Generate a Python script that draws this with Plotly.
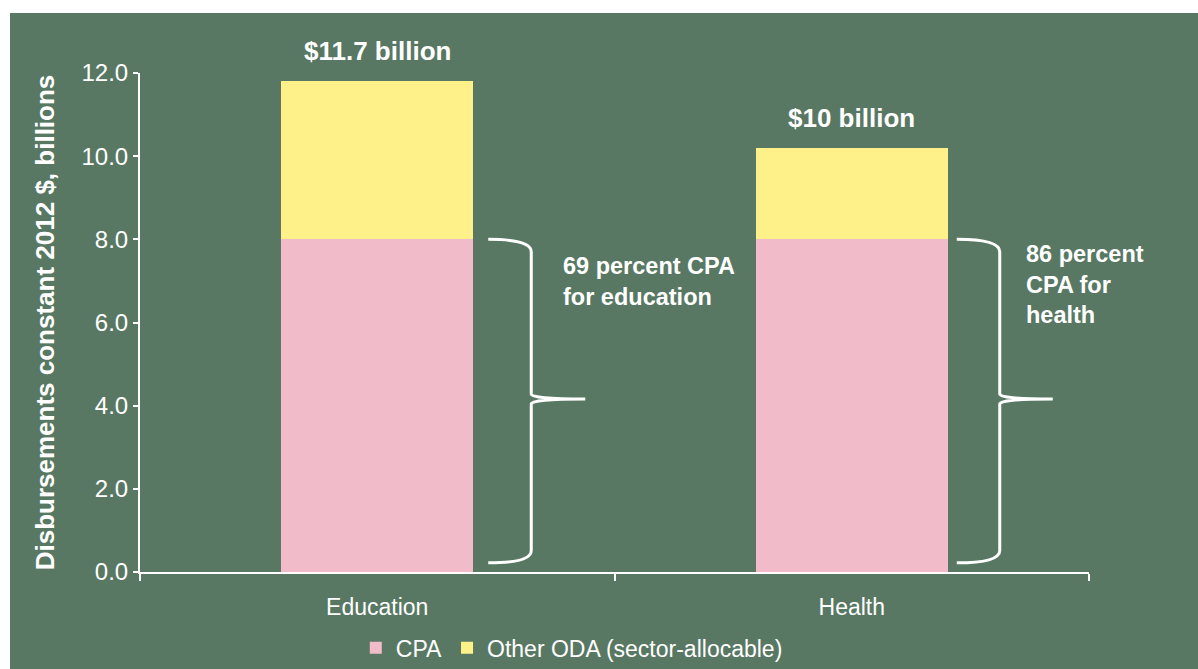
import plotly.graph_objects as go

# ---- data ----
categories = ["Education", "Health"]
cpa = [8.0, 8.0]
other_oda = [3.8, 2.2]
total_labels = ["$11.7 billion", "$10 billion"]
share_labels = ["69 percent CPA<br>for education", "86 percent<br>CPA for<br>health"]
series_names = ["CPA", "Other ODA (sector-allocable)"]
y_ticks = [0, 2, 4, 6, 8, 10, 12]
y_title = "Disbursements constant 2012 $, billions"

# ---- style ----
W, H = 1198, 669
L, R, T, B = 140, 109, 73, 97
BG = "#587863"
PINK = "#F2BBC9"
YELLOW = "#FFF18A"
WHITE = "#FFFFFF"
FONT = "Liberation Sans, Arial, sans-serif"

fig = go.Figure()
fig.add_bar(x=categories, y=cpa, name=series_names[0], marker=dict(color=PINK, line=dict(width=0)), width=0.405)
fig.add_bar(x=categories, y=other_oda, name=series_names[1], marker=dict(color=YELLOW, line=dict(width=0)), width=0.405)

pw = W - L - R
ph = H - T - B
# green panel (image starts with a small white strip at left/top)
fig.add_shape(type="rect", xref="paper", yref="paper", layer="below",
              x0=(10 - L) / pw, x1=(W - L) / pw,
              y0=-B / ph, y1=(H - B - 13) / ph,
              fillcolor=BG, line=dict(width=0))

# braces (x in pixels relative to category centre, y in data units)
brace_px = [(111, 154, 208), (105, 148, 201)]
for cat, c, (x0, xv, xt) in zip(categories, cpa, brace_px):
    ytop, ybot = c, 0.22
    ymid = (ytop + ybot) / 2 + 0.05
    d = 0.3
    path = (f"M {x0},{ytop} Q {xv},{ytop} {xv},{ytop - d} "
            f"L {xv},{ymid + 0.12} Q {xv},{ymid} {xt},{ymid} "
            f"Q {xv},{ymid} {xv},{ymid - 0.12} "
            f"L {xv},{ybot + d} Q {xv},{ybot} {x0},{ybot}")
    fig.add_shape(type="path", xref="x", yref="y", xsizemode="pixel", xanchor=cat,
                  path=path, line=dict(color=WHITE, width=3))

# total labels
for cat, c, o, txt in zip(categories, cpa, other_oda, total_labels):
    fig.add_annotation(x=cat, y=c + o, text=f"<b>{txt}</b>", showarrow=False,
                       yanchor="bottom", yshift=13,
                       font=dict(family=FONT, size=26, color=WHITE))

# share labels
share_shift = [(184, -12), (172, 0)]
for cat, c, txt, (xs, ys) in zip(categories, cpa, share_labels, share_shift):
    fig.add_annotation(x=cat, y=c, text=f"<b>{txt}</b>", showarrow=False,
                       xanchor="left", yanchor="top", align="left",
                       xshift=xs, yshift=ys,
                       font=dict(family=FONT, size=23.5, color=WHITE))

fig.update_layout(
    width=W, height=H,
    margin=dict(l=L, r=R, t=T, b=B, autoexpand=False),
    paper_bgcolor="#FFFFFF",
    plot_bgcolor="rgba(0,0,0,0)",
    barmode="stack",
    font=dict(family=FONT, color=WHITE, size=23),
    showlegend=True,
    legend=dict(orientation="h", x=0.455, xanchor="center", y=-0.152, yanchor="middle",
                traceorder="normal", font=dict(family=FONT, size=23, color=WHITE),
                bgcolor="rgba(0,0,0,0)", itemwidth=30),
    xaxis=dict(showline=True, linecolor=WHITE, linewidth=2, ticks="outside",
               tickson="boundaries", ticklen=7, tickwidth=2, tickcolor=WHITE,
               ticklabelstandoff=13,
               tickfont=dict(family=FONT, size=23, color=WHITE),
               showgrid=False, zeroline=False, range=[-0.5, 1.5]),
    yaxis=dict(range=[0, 12], tickvals=y_ticks, tickformat=".1f",
               showline=True, linecolor=WHITE, linewidth=2, ticks="outside",
               ticklen=5, tickwidth=2, tickcolor=WHITE,
               tickfont=dict(family=FONT, size=24, color=WHITE),
               showgrid=False, zeroline=False,
               title=dict(text=f"<b>{y_title}</b>", font=dict(family=FONT, size=26, color=WHITE),
                          standoff=19)),
)

fig.write_html("out.html", config={"displayModeBar": False},
               post_script="document.body.style.margin='0';document.body.style.overflow='hidden';")
